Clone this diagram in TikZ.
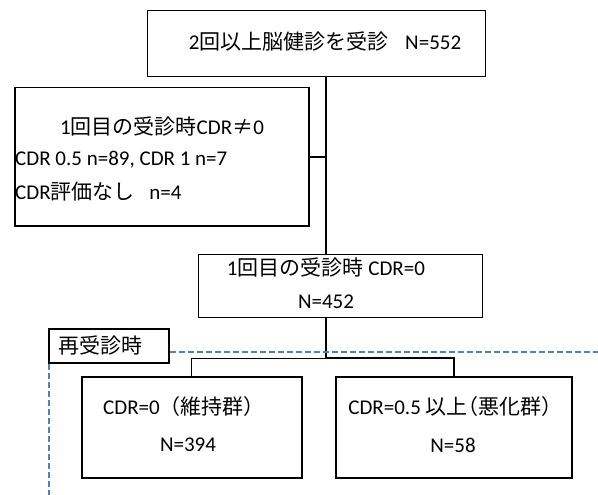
\documentclass[tikz,border=0pt]{standalone}
\usepackage{fontspec}
\setmainfont{Carlito}
\newfontfamily\jp{Noto Sans CJK JP}
\newfontfamily\jph[RawFeature=+halt]{Noto Sans CJK JP}
\definecolor{dashcol}{HTML}{4F81BD}
\begin{document}
\begin{tikzpicture}[x=1pt,y=-1pt,
  box/.style={draw=black, line width=1pt, anchor=north west, inner sep=0pt},
  boldbox/.style={box, line width=1.8pt},
  txt/.style={inner sep=0pt, font=\fontsize{21}{25}\selectfont},
  thickln/.style={line width=2pt},
  thinln/.style={line width=1pt},
  dashblue/.style={draw=dashcol, line width=1.5pt, dash pattern=on 6pt off 3pt}]
\useasboundingbox (0,0) rectangle (598,495);
% boxes
\node[box, minimum width=338pt, minimum height=66pt] (top) at (147,10) {};
\node[box, line width=1.5pt, minimum width=294pt, minimum height=138pt] (left) at (14,87) {};
\node[box, minimum width=284pt, minimum height=63pt] (mid) at (198,254) {};
\node[boldbox, minimum width=220pt, minimum height=101pt] (bl) at (81,376) {};
\node[boldbox, minimum width=236pt, minimum height=101pt] (br) at (335,376) {};
\node[box, line width=1.5pt, minimum width=120pt, minimum height=34pt] (lab) at (48,328) {};
% texts
\node[txt] (t1) at (325,42) {2{\jp 回以上脳健診を受診}\hspace{0.8em}N=552};
\node[txt] (t2) at (162,126) {1{\jp 回目の受診時}CDR{\jp ≠}0};
\node[txt, anchor=west] (t3) at (15,160) {CDR 0.5 n=89, CDR 1 n=7};
\node[txt, anchor=west] (t4) at (15,192) {CDR{\jp 評価なし}\hspace{0.7em}n=4};
\node[txt] (t5) at (326,267) {1{\jp 回目の受診時} CDR=0};
\node[txt] (t6) at (326,302) {N=452};
\node[txt, anchor=west] (t7) at (58,345) {\jp 再受診時};
\node[txt] (t8) at (184,407) {CDR=0{\jp （維持群）}};
\node[txt] (t9) at (188,445) {N=394};
\node[txt] (t10) at (450,407) {CDR=0.5 {\jp 以上}{\jph （}{\jp 悪化群}{\jph ）}};
\node[txt] (t11) at (453,445) {N=58};
% connectors
\coordinate (vx) at (326,0);
\coordinate (split) at (326,358);
\coordinate (dashR) at (598,352);
\coordinate (dashB) at (49,495);
\draw[thickln] (top.south -| vx) -- (mid.north -| vx);
\draw[thickln] (left.east) -- (left.east -| vx);
\draw[thickln] (mid.south -| vx) -- (split) -| (br.north);
\draw[thinln] (split) -| (bl.north);
\draw[dashblue] (lab.east |- dashR) -- (dashR);
\draw[dashblue] (lab.south west -| dashB) -- (dashB);
\end{tikzpicture}
\end{document}
